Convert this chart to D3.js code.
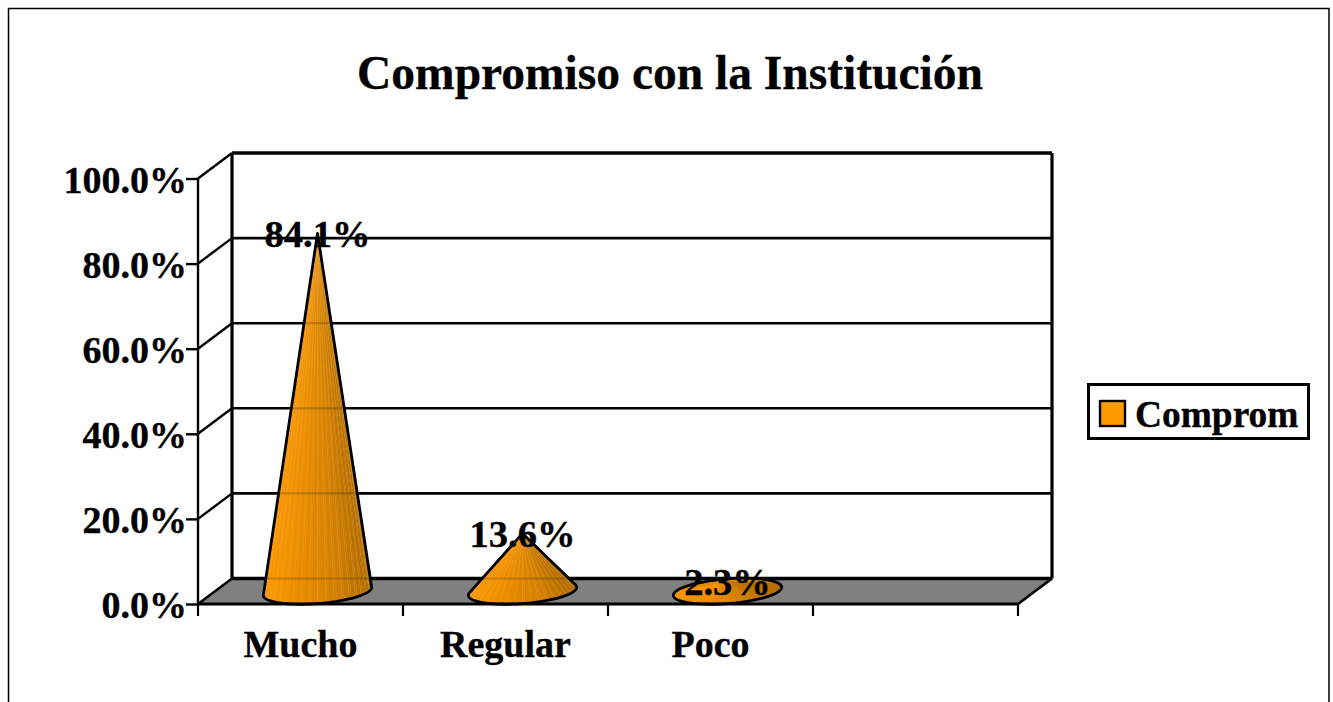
<!DOCTYPE html>
<html><head><meta charset="utf-8">
<script src="https://cdn.jsdelivr.net/npm/d3@7"></script>
<style>html,body{margin:0;padding:0;background:#fff;overflow:hidden}svg{display:block}text{font-family:"Liberation Serif",serif;font-weight:bold;fill:#000;stroke:#000;stroke-width:0.35px}</style>
</head><body><svg id="c" width="1333" height="702"></svg>
<script>
const categories = ["Mucho","Regular","Poco",""];
const values = [84.1,13.6,2.3];
const yTicks = [0,20,40,60,80,100];
const seriesName = "Comprom";
const title = "Compromiso con la Institución";

const svg = d3.select("#c");
const dx = 34, dy = -25.5;
const x = d3.scaleBand().domain(categories).range([198,1018]).paddingInner(0).paddingOuter(0);
const y = d3.scaleLinear().domain([0,100]).range([604,178.5]);
const ink = "#000";

// outer frame
svg.append("path").attr("d","M8.5,702V8.5H1329V702").attr("fill","none").attr("stroke",ink).attr("stroke-width",1.5);

svg.append("text").attr("x",670).attr("y",89).attr("text-anchor","middle").attr("font-size",47.5).text(title);

// floor
const x0 = x.range()[0], x1 = x.range()[1];
svg.append("path").attr("d",d3.line()([[x0,y(0)],[x0+dx,y(0)+dy],[x1+dx,y(0)+dy],[x1,y(0)]])+"Z").attr("fill","#808080");

// gridlines on back and side wall
yTicks.forEach(t=>{
  const w = t===100||t===0?3.4:2.6;
  svg.append("line").attr("x1",x0+dx).attr("x2",x1+dx).attr("y1",y(t)+dy).attr("y2",y(t)+dy).attr("stroke",ink).attr("stroke-width",w);
  svg.append("line").attr("x1",x0).attr("x2",x0+dx).attr("y1",y(t)).attr("y2",y(t)+dy).attr("stroke",ink).attr("stroke-width",2.4);
});
svg.append("line").attr("x1",x0+dx).attr("x2",x0+dx).attr("y1",y(0)+dy).attr("y2",y(100)+dy).attr("stroke",ink).attr("stroke-width",3.2);
svg.append("line").attr("x1",x1+dx).attr("x2",x1+dx).attr("y1",y(0)+dy).attr("y2",y(100)+dy).attr("stroke",ink).attr("stroke-width",3.2);
svg.append("line").attr("x1",x1).attr("x2",x1+dx).attr("y1",y(0)).attr("y2",y(0)+dy).attr("stroke",ink).attr("stroke-width",2.8);

// cones
const shade = d3.scaleLinear().domain([-1,-0.35,0.4,1]).range(["#ff9900","#e88c00","#d07e00","#a86600"]);
const step = Math.PI/60;
values.forEach((v,i)=>{
  const cx = x(categories[i]) + x.bandwidth()/2 + dx/2;
  const cy = y(0) + dy/2;
  const rx = x.bandwidth()*0.264, ry = 12.4, sk = 4;
  const apexY = y(v) + dy/2;
  const pt = t=>[cx+rx*Math.cos(t), cy+ry*Math.sin(t)-sk*Math.cos(t)];
  const ring = d3.range(0,Math.PI*2,step/2).map(pt);
  const apex = [cx,apexY];
  const hull = d3.polygonHull(ring.concat([apex]));
  const g = svg.append("g");
  const clip = "cone"+i;
  g.append("clipPath").attr("id",clip).append("path").attr("d","M"+hull.join("L")+"Z");
  const fan = g.append("g").attr("clip-path",`url(#${clip})`);
  fan.append("path").attr("d","M"+hull.join("L")+"Z").attr("fill","#e08800");
  d3.range(Math.PI*1.1,-Math.PI*0.1,-step).forEach((t,k)=>{
    const a=pt(t), b=pt(t-step*1.02);
    const lighten = k%3===0 && v>5;
    fan.append("path").attr("d",d3.line()([apex,a,b])+"Z")
      .attr("fill",shade(Math.cos(t))).attr("stroke",lighten?"#f4b860":"none").attr("stroke-opacity",0.55).attr("stroke-width",0.5);
  });
  if(v>5){
    yTicks.forEach(tk=>{
      const yy=y(tk)+dy;
      if(yy>apexY) fan.append("line").attr("x1",cx-rx-5).attr("x2",cx+rx+5).attr("y1",yy).attr("y2",yy)
        .attr("stroke","#000").attr("stroke-opacity",0.18).attr("stroke-width",2.2);
    });
  }
  g.append("path").attr("d","M"+hull.join("L")+"Z").attr("fill","none").attr("stroke",ink).attr("stroke-width",2.8).attr("stroke-linejoin","round");
});

// axes
const yAxis = d3.axisLeft(y).tickValues(yTicks).tickFormat(d=>d3.format(".1f")(d)+"%").tickSize(12).tickPadding(-1);
const ay = svg.append("g").attr("transform",`translate(${x0},0)`).call(yAxis);
ay.selectAll("path").attr("stroke",ink).attr("stroke-width",2.4).attr("d",`M0,${y(100)}V${y(0)}`);
ay.selectAll("line").attr("stroke",ink).attr("stroke-width",2.4);
ay.selectAll("text").attr("font-size",38).attr("font-family",'"Liberation Serif",serif').attr("font-weight","bold").attr("fill","#000").attr("dy","0.36em");

svg.append("line").attr("x1",x0).attr("x2",x1).attr("y1",y(0)).attr("y2",y(0)).attr("stroke",ink).attr("stroke-width",3.2);
const tickPos = d3.range(categories.length+1).map(i=>x0+i*x.step());
tickPos.forEach(p=>svg.append("line").attr("x1",p).attr("x2",p).attr("y1",y(0)).attr("y2",y(0)+12).attr("stroke",ink).attr("stroke-width",2.2));
categories.forEach(c=>{ if(c) svg.append("text").attr("x",x(c)+x.bandwidth()/2).attr("y",657).attr("text-anchor","middle").attr("font-size",38).text(c); });

// data labels
values.forEach((v,i)=>{
  svg.append("text").attr("x",x(categories[i])+x.bandwidth()/2+dx/2).attr("y",y(v)+dy/2+14)
    .attr("text-anchor","middle").attr("font-size",38.5).text(d3.format(".1f")(v)+"%");
});

// legend
svg.append("rect").attr("x",1088.5).attr("y",384.5).attr("width",220).attr("height",54).attr("fill","#fff").attr("stroke",ink).attr("stroke-width",3);
svg.append("rect").attr("x",1100).attr("y",401).attr("width",25).attr("height",25).attr("fill","#ff9900").attr("stroke",ink).attr("stroke-width",2.4);
svg.append("text").attr("x",1135).attr("y",427).attr("font-size",37.4).text(seriesName);
</script></body></html>
